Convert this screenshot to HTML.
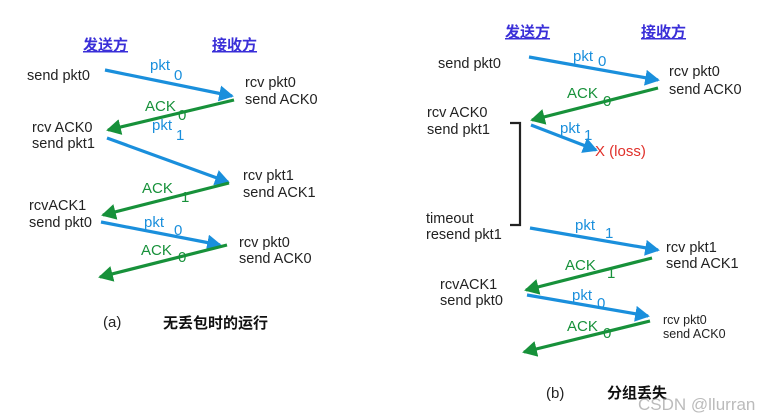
<!DOCTYPE html>
<html><head><meta charset="utf-8"><style>
html,body{margin:0;padding:0;background:#fff;}
svg{display:block;}
text{font-family:"Liberation Sans","Noto Sans CJK SC",sans-serif;}
.t{font-size:14.5px;fill:#222;}
.b{fill:#1a8fdc;font-size:15px;}
.g{fill:#17913a;font-size:15px;}
.h{font-size:15px;font-weight:bold;fill:#3a2fd8;text-decoration:underline;}
</style></head><body>
<svg width="777" height="418" viewBox="0 0 777 418" xmlns="http://www.w3.org/2000/svg">
<defs>
<marker id="ab" markerWidth="4.6" markerHeight="5" refX="4" refY="2.5" orient="auto" markerUnits="strokeWidth"><path d="M0,0 L4.6,2.5 L0,5 z" fill="#1a8fdc"/></marker>
<marker id="ag" markerWidth="4.6" markerHeight="5" refX="4" refY="2.5" orient="auto" markerUnits="strokeWidth"><path d="M0,0 L4.6,2.5 L0,5 z" fill="#17913a"/></marker>
</defs>
<g stroke-width="3.2" fill="none">
<line x1="105" y1="70" x2="232" y2="96" stroke="#1a8fdc" marker-end="url(#ab)"/>
<line x1="234" y1="100" x2="108" y2="130" stroke="#17913a" marker-end="url(#ag)"/>
<line x1="107" y1="138" x2="228" y2="182" stroke="#1a8fdc" marker-end="url(#ab)"/>
<line x1="229" y1="183" x2="103" y2="215" stroke="#17913a" marker-end="url(#ag)"/>
<line x1="101" y1="222" x2="220" y2="245" stroke="#1a8fdc" marker-end="url(#ab)"/>
<line x1="227" y1="245" x2="100" y2="277" stroke="#17913a" marker-end="url(#ag)"/>
<line x1="529" y1="57" x2="658" y2="80" stroke="#1a8fdc" marker-end="url(#ab)"/>
<line x1="658" y1="88" x2="532" y2="120" stroke="#17913a" marker-end="url(#ag)"/>
<line x1="531" y1="125" x2="596" y2="150" stroke="#1a8fdc" marker-end="url(#ab)"/>
<line x1="530" y1="228" x2="658" y2="250" stroke="#1a8fdc" marker-end="url(#ab)"/>
<line x1="652" y1="258" x2="526" y2="290" stroke="#17913a" marker-end="url(#ag)"/>
<line x1="527" y1="295" x2="648" y2="316" stroke="#1a8fdc" marker-end="url(#ab)"/>
<line x1="650" y1="321" x2="524" y2="352" stroke="#17913a" marker-end="url(#ag)"/>
<path d="M510,123 H520 V225 H510" stroke="#222" stroke-width="2.2"/>
</g>
<text class="h" x="83" y="50">发送方</text>
<text class="h" x="212" y="50">接收方</text>
<text class="t" x="27" y="80">send pkt0</text>
<text class="b" x="150" y="70">pkt</text><text class="b" x="174" y="80">0</text>
<text class="t" x="245" y="87">rcv pkt0</text>
<text class="t" x="245" y="104">send ACK0</text>
<text class="g" x="145" y="111">ACK</text><text class="g" x="178" y="120">0</text>
<text class="t" x="32" y="132">rcv ACK0</text>
<text class="t" x="32" y="148">send pkt1</text>
<text class="b" x="152" y="130">pkt</text><text class="b" x="176" y="140">1</text>
<text class="t" x="243" y="180">rcv pkt1</text>
<text class="t" x="243" y="197">send ACK1</text>
<text class="g" x="142" y="193">ACK</text><text class="g" x="181" y="202">1</text>
<text class="t" x="29" y="210">rcvACK1</text>
<text class="t" x="29" y="227">send pkt0</text>
<text class="b" x="144" y="227">pkt</text><text class="b" x="174" y="235">0</text>
<text class="t" x="239" y="247">rcv pkt0</text>
<text class="t" x="239" y="263">send ACK0</text>
<text class="g" x="141" y="255">ACK</text><text class="g" x="178" y="262">0</text>
<text class="t" x="103" y="327" style="font-size:15px">(a)</text>
<text x="163" y="328" style="font-size:15px;font-weight:bold;fill:#111">无丢包时的运行</text>
<text class="h" x="505" y="37">发送方</text>
<text class="h" x="641" y="37">接收方</text>
<text class="t" x="438" y="68">send pkt0</text>
<text class="b" x="573" y="61">pkt</text><text class="b" x="598" y="66">0</text>
<text class="t" x="669" y="76">rcv pkt0</text>
<text class="t" x="669" y="94">send ACK0</text>
<text class="g" x="567" y="98">ACK</text><text class="g" x="603" y="106">0</text>
<text class="t" x="427" y="117">rcv ACK0</text>
<text class="t" x="427" y="134">send pkt1</text>
<text class="b" x="560" y="133">pkt</text><text class="b" x="584" y="140">1</text>
<text x="595" y="156" style="font-size:15px;fill:#e0302a">X (loss)</text>
<text class="t" x="426" y="223">timeout</text>
<text class="t" x="426" y="239">resend pkt1</text>
<text class="b" x="575" y="230">pkt</text><text class="b" x="605" y="238">1</text>
<text class="t" x="666" y="252">rcv pkt1</text>
<text class="t" x="666" y="268">send ACK1</text>
<text class="g" x="565" y="270">ACK</text><text class="g" x="607" y="278">1</text>
<text class="t" x="440" y="289">rcvACK1</text>
<text class="t" x="440" y="305">send pkt0</text>
<text class="b" x="572" y="300">pkt</text><text class="b" x="597" y="308">0</text>
<text class="t" x="663" y="324" style="font-size:12.5px">rcv pkt0</text>
<text class="t" x="663" y="338" style="font-size:12.5px">send ACK0</text>
<text class="g" x="567" y="331">ACK</text><text class="g" x="603" y="338">0</text>
<text class="t" x="546" y="398" style="font-size:15px">(b)</text>
<text x="607" y="398" style="font-size:15px;font-weight:bold;fill:#111">分组丢失</text>
<text x="638" y="410" style="font-size:17px;fill:#aaa;fill-opacity:0.8">CSDN @llurran</text>
</svg>
</body></html>
